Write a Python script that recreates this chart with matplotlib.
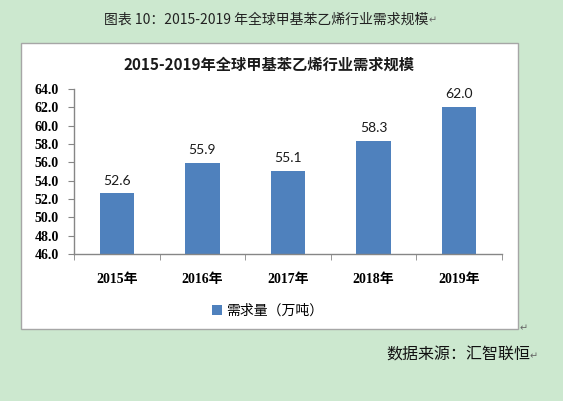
import matplotlib
matplotlib.use("Agg")
from matplotlib import pyplot as plt
from matplotlib.patches import Rectangle
import numpy as np

years = ['2015年', '2016年', '2017年', '2018年', '2019年']
demand = [52.6, 55.9, 55.1, 58.3, 62.0]
y_ticks = [46.0, 48.0, 50.0, 52.0, 54.0, 56.0, 58.0, 60.0, 62.0, 64.0]

caption = '图表 10：2015-2019 年全球甲基苯乙烯行业需求规模'
title = '2015-2019年全球甲基苯乙烯行业需求规模'
legend_label = '需求量（万吨）'
source = '数据来源：汇智联恒'

BG = '#CCE8CF'
BAR = '#4F81BD'
AXIS = '#868686'
SERIF = ['Liberation Serif', 'Noto Sans CJK SC', 'DejaVu Sans']
CJK = ['Noto Sans CJK SC', 'DejaVu Sans']

plt.rcParams['font.family'] = CJK

fig = plt.figure(figsize=(5.63, 4.01), dpi=100, facecolor=BG)

# white chart box, behind everything
W, H = 563.0, 401.0
box = Rectangle((21 / W, 1 - 329 / H), 497 / W, 286 / H, transform=fig.transFigure,
                facecolor='white', edgecolor='#A6A6A6', linewidth=1.0, zorder=-10)
fig.patches.append(box)

ax = fig.add_axes([74 / W, 1 - 254 / H, 428 / W, 165 / H])
ax.set_facecolor('none')
ax.set_zorder(1)

x = np.arange(len(years))
bars = ax.bar(x, demand, width=0.4, color=BAR, label=legend_label, zorder=2)

for xi, v in zip(x, demand):
    ax.annotate('%.1f' % v, (xi, v), xytext=(0, 5), textcoords='offset points',
                ha='center', va='bottom', fontsize=10, family='Lato', color='#1a1a1a')

ax.set_ylim(46, 64)
ax.set_xlim(-0.5, len(years) - 0.5)
ax.set_yticks(y_ticks)
ax.set_yticklabels(['%.1f' % t for t in y_ticks], family=SERIF, fontweight='bold', fontsize=10)
ax.set_xticks(x)
ax.set_xticklabels(years, family=SERIF, fontweight='bold', fontsize=10)
ax.set_xticks(np.arange(len(years) + 1) - 0.5, minor=True)
ax.tick_params(axis='x', which='major', length=0, pad=14)
ax.tick_params(axis='x', which='minor', length=4, color=AXIS, direction='out')
ax.tick_params(axis='y', length=4, color=AXIS, direction='out', pad=7)

for side in ['top', 'right']:
    ax.spines[side].set_visible(False)
for side in ['left', 'bottom']:
    ax.spines[side].set_color(AXIS)
    ax.spines[side].set_linewidth(1.0)

leg = fig.legend(loc='center', bbox_to_anchor=(268 / W, 1 - 311 / H), frameon=False,
                 handlelength=0.7, handleheight=0.7, handletextpad=0.3,
                 prop={'family': CJK, 'size': 10})

fig.text(269 / W, 1 - 65 / H, title, ha='center', va='center', fontsize=11,
         fontweight='bold', color='#1a1a1a')
fig.text(266 / W, 1 - 20 / H, caption, ha='center', va='center', fontsize=10,
         color='#222222')
fig.text(429 / W, 1 - 20 / H, '↵', ha='left', va='center', fontsize=7,
         family='DejaVu Sans', color='#666666')
fig.text(386 / W, 1 - 355 / H, source, ha='left', va='center', fontsize=11.5,
         color='#111111')
fig.text(530 / W, 1 - 356 / H, '↵', ha='left', va='center', fontsize=7,
         family='DejaVu Sans', color='#666666')
fig.text(520 / W, 1 - 328 / H, '↵', ha='left', va='center', fontsize=7,
         family='DejaVu Sans', color='#666666')

plt.savefig('out.png', dpi=100, facecolor=BG)
plt.close()
